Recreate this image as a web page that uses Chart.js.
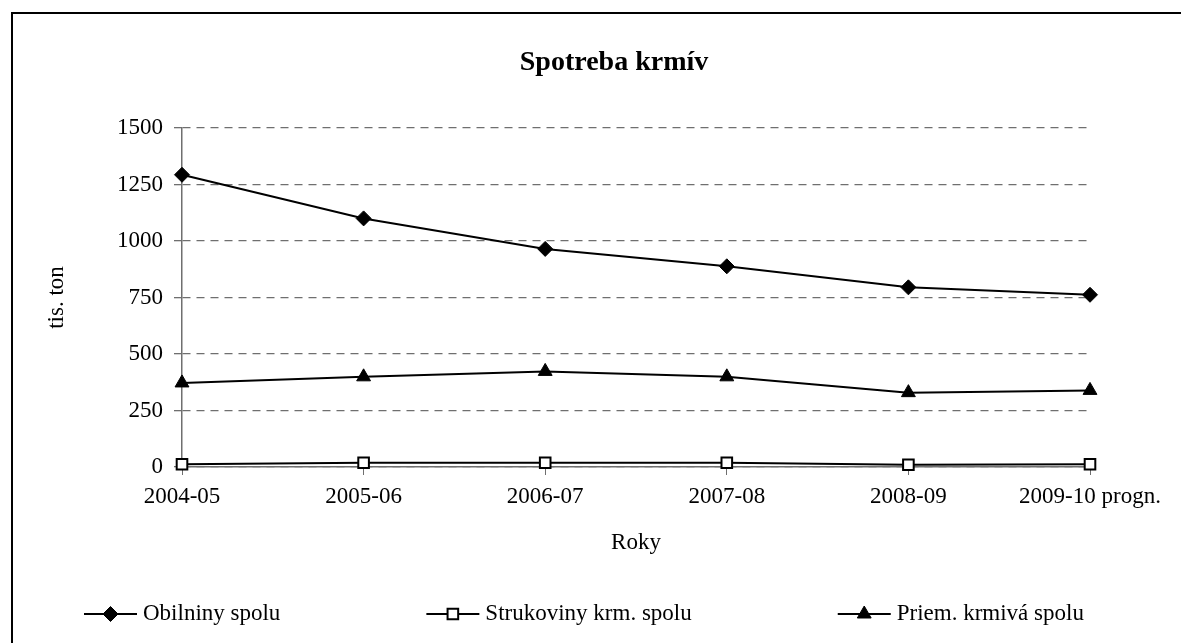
<!DOCTYPE html>
<html lang="sk">
<head>
  <meta charset="UTF-8">
  <title>Spotreba krmív</title>
  <script src="https://cdn.jsdelivr.net/npm/chart.js@4/dist/chart.umd.min.js"></script>
  <style>
    html, body { margin: 0; padding: 0; background: #fff; overflow: hidden; }
    .frame {
      position: absolute; left: 11px; top: 12px; width: 1400px; height: 900px;
      border-left: 2px solid #000; border-top: 2px solid #000;
    }
    #chart { position: absolute; left: 0; top: 0; }
  </style>
</head>
<body>
  <div class="frame"></div>
  <canvas id="chart" width="1181" height="643"></canvas>

  <script>
    // Údaje z grafu (tis. ton)
    const roky = ['2004-05', '2005-06', '2006-07', '2007-08', '2008-09', '2009-10 progn.'];
    const obilniny = [1293, 1100, 965, 888, 795, 762];
    const strukoviny = [12, 19, 19, 19, 10, 12];
    const priemKrmiva = [372, 399, 423, 399, 329, 339];
    const yTicks = [0, 250, 500, 750, 1000, 1250, 1500];

    const FONT = '"Liberation Serif", "Times New Roman", serif';
    const GRID = '#6f6f6f';

    // Legenda dole: čiara so značkou a text
    function drawMarker(ctx, style, x, y, r) {
      ctx.beginPath();
      if (style === 'rectRot') {
        ctx.moveTo(x, y - r); ctx.lineTo(x + r, y); ctx.lineTo(x, y + r); ctx.lineTo(x - r, y);
      } else if (style === 'rect') {
        const s = r * Math.SQRT1_2;
        ctx.rect(x - s, y - s, 2 * s, 2 * s);
      } else {
        ctx.moveTo(x, y - r);
        ctx.lineTo(x + r * 0.866, y + r / 2);
        ctx.lineTo(x - r * 0.866, y + r / 2);
      }
      ctx.closePath();
    }

    const legendaPlugin = {
      id: 'legendaDole',
      afterDraw(chart) {
        const ctx = chart.ctx;
        const y = 614;
        let x = 84;
        ctx.save();
        ctx.font = '23px ' + FONT;
        ctx.textBaseline = 'middle';
        ctx.textAlign = 'left';
        chart.data.datasets.forEach(ds => {
          ctx.strokeStyle = '#000';
          ctx.lineWidth = 2;
          ctx.beginPath();
          ctx.moveTo(x, y);
          ctx.lineTo(x + 53, y);
          ctx.stroke();
          drawMarker(ctx, ds.pointStyle, x + 26.5, y, ds.pointRadius);
          ctx.fillStyle = ds.pointBackgroundColor;
          ctx.fill();
          ctx.lineWidth = ds.pointBorderWidth;
          ctx.stroke();
          ctx.fillStyle = '#000';
          ctx.fillText(ds.label, x + 59, y);
          x += 59 + ctx.measureText(ds.label).width + 146;
        });
        ctx.restore();
      }
    };

    const ctx = document.getElementById('chart').getContext('2d');
    new Chart(ctx, {
      type: 'line',
      data: {
        labels: roky,
        datasets: [
          {
            label: 'Obilniny spolu',
            data: obilniny,
            borderColor: '#000',
            borderWidth: 2,
            pointStyle: 'rectRot',
            pointRadius: 7.5,
            pointBackgroundColor: '#000',
            pointBorderColor: '#000',
            pointBorderWidth: 1,
            tension: 0,
            clip: false
          },
          {
            label: 'Strukoviny krm. spolu',
            data: strukoviny,
            borderColor: '#000',
            borderWidth: 2,
            pointStyle: 'rect',
            pointRadius: 7.5,
            pointBackgroundColor: '#fff',
            pointBorderColor: '#000',
            pointBorderWidth: 2,
            tension: 0,
            clip: false
          },
          {
            label: 'Priem. krmivá spolu',
            data: priemKrmiva,
            borderColor: '#000',
            borderWidth: 2,
            pointStyle: 'triangle',
            pointRadius: 8,
            pointBackgroundColor: '#000',
            pointBorderColor: '#000',
            pointBorderWidth: 1,
            tension: 0,
            clip: false
          }
        ]
      },
      options: {
        responsive: false,
        animation: false,
        layout: { padding: { left: 47, right: 0, top: 0, bottom: 76 } },
        plugins: {
          legend: { display: false },
          tooltip: { enabled: false },
          title: {
            display: true,
            text: 'Spotreba krmív',
            color: '#000',
            font: { family: FONT, size: 28, weight: 'bold' },
            padding: { top: 46, bottom: 48.4 }
          }
        },
        scales: {
          x: {
            offset: false,
            grid: { display: true, drawOnChartArea: false, drawTicks: true, tickLength: 8, color: GRID, tickColor: GRID },
            border: { display: true, color: GRID, width: 1.5 },
            ticks: { color: '#000', font: { family: FONT, size: 23 }, padding: 8, maxRotation: 0, autoSkip: false },
            title: { display: true, text: 'Roky', color: '#000', font: { family: FONT, size: 23 }, padding: { top: 0, bottom: 10 } },
            afterFit(scale) { scale.height = 100; }
          },
          y: {
            min: 0,
            max: 1500,
            afterBuildTicks(scale) { scale.ticks = yTicks.map(v => ({ value: v })); },
            grid: { color: GRID, lineWidth: 1.3, tickLength: 8, tickColor: GRID, tickBorderDash: [], tickWidth: 1.3 },
            border: { display: true, color: GRID, width: 1.5, dash: [8, 6] },
            ticks: { color: '#000', font: { family: FONT, size: 23 }, padding: 11, callback: v => String(v) },
            title: { display: true, text: 'tis. ton', color: '#000', font: { family: FONT, size: 23, lineHeight: 0.85 }, padding: 0 },
            afterFit(scale) { scale.width = 135; }
          },
          pravy: {
            position: 'right',
            display: true,
            grid: { drawOnChartArea: false, drawTicks: false },
            border: { display: false },
            ticks: { display: false },
            afterFit(scale) { scale.width = 91; }
          }
        }
      },
      plugins: [legendaPlugin]
    });
  </script>
</body>
</html>
